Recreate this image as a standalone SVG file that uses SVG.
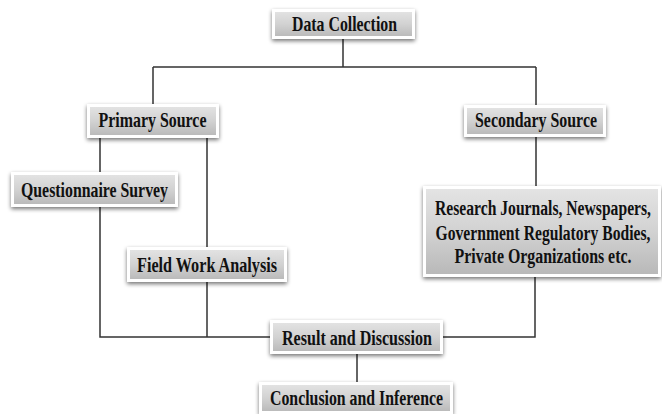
<svg xmlns="http://www.w3.org/2000/svg" width="662" height="414" viewBox="0 0 662 414">
<defs>
<linearGradient id="g" x1="0" y1="0" x2="0" y2="1">
<stop offset="0" stop-color="#e4e4e4"/>
<stop offset="0.5" stop-color="#d2d2d2"/>
<stop offset="1" stop-color="#b8b8b8"/>
</linearGradient>
<filter id="sh" x="-10%" y="-30%" width="120%" height="170%">
<feGaussianBlur in="SourceAlpha" stdDeviation="2"/>
<feOffset dx="0" dy="2" result="b"/>
<feComponentTransfer><feFuncA type="linear" slope="0.55"/></feComponentTransfer>
<feMerge><feMergeNode/><feMergeNode in="SourceGraphic"/></feMerge>
</filter>
</defs>
<style>
.box{fill:url(#g);stroke:#ffffff;stroke-width:3;filter:url(#sh)}
.t{font-family:"Liberation Serif","Times New Roman",serif;font-weight:bold;font-size:21px;fill:#111;text-anchor:middle}
.s{font-family:"Liberation Serif","Times New Roman",serif;font-weight:bold;font-size:16px;fill:#111;text-anchor:middle}
.c{fill:none;stroke:#333;stroke-width:1.5}
</style>
<rect width="662" height="414" fill="#fff"/>
<g id="connectors">
<path class="c" d="M343 38 V67 M153 67 H536 M153 67 V104 M536 67 V105"/>
<path class="c" d="M100 138 V172 M207 138 V247 M536 137 V186"/>
<path class="c" d="M100 207 V337 H270 M207 282 V337 M535 277 V337 H443 M357 354 V382"/>
</g>
<g id="data-collection">
<rect class="box" x="273.5" y="10.5" width="140" height="27"/>
<text class="t" x="344.5" y="31" textLength="105" lengthAdjust="spacingAndGlyphs">Data Collection</text>
</g>
<g id="primary-source">
<rect class="box" x="88.5" y="105.5" width="129" height="31"/>
<text class="t" x="152.5" y="127" textLength="108" lengthAdjust="spacingAndGlyphs">Primary Source</text>
</g>
<g id="secondary-source">
<rect class="box" x="465.5" y="106.5" width="139" height="29"/>
<text class="t" x="536" y="127" textLength="122" lengthAdjust="spacingAndGlyphs">Secondary Source</text>
</g>
<g id="questionnaire-survey">
<rect class="box" x="12.5" y="173.5" width="164" height="32"/>
<text class="t" x="94.5" y="197" textLength="147" lengthAdjust="spacingAndGlyphs">Questionnaire Survey</text>
</g>
<g id="secondary-data">
<rect class="box" x="424.5" y="187.5" width="235" height="88"/>
<text class="s" transform="translate(543,215) scale(1,1.3)" textLength="216" lengthAdjust="spacingAndGlyphs">Research Journals, Newspapers,</text>
<text class="s" transform="translate(543,240) scale(1,1.3)" textLength="215" lengthAdjust="spacingAndGlyphs">Government Regulatory Bodies,</text>
<text class="s" transform="translate(543,263) scale(1,1.3)" textLength="177" lengthAdjust="spacingAndGlyphs">Private Organizations etc.</text>
</g>
<g id="field-work-analysis">
<rect class="box" x="128.5" y="248.5" width="157" height="32"/>
<text class="t" x="207" y="272" textLength="140" lengthAdjust="spacingAndGlyphs">Field Work Analysis</text>
</g>
<g id="result-discussion">
<rect class="box" x="271.5" y="321.5" width="170" height="31"/>
<text class="t" x="357" y="345" textLength="150" lengthAdjust="spacingAndGlyphs">Result and Discussion</text>
</g>
<g id="conclusion-inference">
<rect class="box" x="260.5" y="383.5" width="191" height="29"/>
<text class="t" x="356.5" y="405" textLength="173" lengthAdjust="spacingAndGlyphs">Conclusion and Inference</text>
</g>
</svg>
